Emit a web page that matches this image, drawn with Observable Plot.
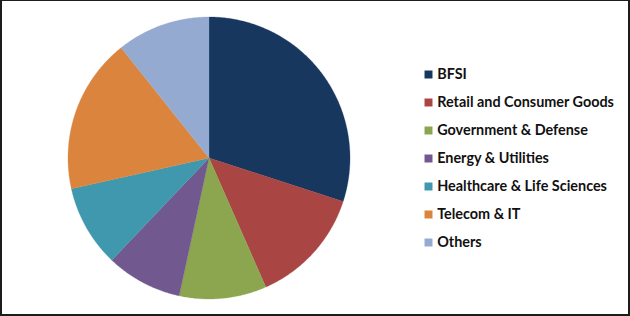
<!DOCTYPE html>
<html><head><meta charset="utf-8">
<script src="https://cdn.jsdelivr.net/npm/d3@7"></script>
<script src="https://cdn.jsdelivr.net/npm/@observablehq/plot@0.6"></script>
<style>
html,body{margin:0;padding:0;background:#fff;}
#frame{position:relative;width:630px;height:316px;overflow:hidden;background:#fff;}
#frame svg{position:absolute;left:0;top:0;background:transparent;}
#border{position:absolute;left:0;top:0;width:630px;height:316px;box-sizing:border-box;border-style:solid;border-color:#1c1c1c;border-width:1px 2px 2px 2px;pointer-events:none;}
</style></head><body>
<div id="frame"></div>
<script>
const categories = ["BFSI", "Retail and Consumer Goods", "Government & Defense", "Energy & Utilities", "Healthcare & Life Sciences", "Telecom & IT", "Others"];
const shares = [30, 13.4, 10, 8.7, 9.4, 17.8, 10.7];
const colors = ["#17375e", "#a94543", "#8ba64e", "#71588f", "#4098ae", "#db843d", "#94aad0"];

const arcs = d3.pie().sort(null).value(d => d)(shares);
const pts = [];
arcs.forEach((a, i) => {
  const cat = categories[i];
  pts.push({cat, x: 0, y: 0});
  const n = Math.max(2, Math.ceil((a.endAngle - a.startAngle) / 0.01));
  for (let k = 0; k <= n; k++) {
    const t = a.startAngle + (a.endAngle - a.startAngle) * k / n;
    pts.push({cat, x: Math.sin(t), y: Math.cos(t)});
  }
  pts.push({cat, x: 0, y: 0});
});

const pie = Plot.plot({
  width: 630, height: 316,
  marginLeft: 67.5, marginRight: 280.5, marginTop: 16.5, marginBottom: 17.5,
  x: {domain: [-1, 1], axis: null},
  y: {domain: [-1, 1], axis: null},
  color: {domain: categories, range: colors},
  style: {background: "transparent"},
  marks: [
    Plot.line(pts, {x: "x", y: "y", z: "cat", fill: "cat", stroke: "cat", strokeWidth: 0.3})
  ]
});

const legend = Plot.plot({
  width: 630, height: 316,
  marginLeft: 428, marginRight: 0, marginTop: 73.5, marginBottom: 74.3,
  y: {type: "point", domain: categories, axis: null, padding: 0},
  color: {domain: categories, range: colors},
  style: {background: "transparent", fontFamily: "Lato, sans-serif"},
  marks: [
    Plot.dot(categories, {y: d => d, fill: d => d, symbol: "square", r: 4.5, frameAnchor: "left"}),
    Plot.text(categories, {y: d => d, text: d => d, frameAnchor: "left", textAnchor: "start", dx: 8.7, fontSize: 14.4, fontWeight: "bold", fill: "#111"})
  ]
});

const frame = document.getElementById("frame");
frame.appendChild(pie);
frame.appendChild(legend);
const b = document.createElement("div");
b.id = "border";
frame.appendChild(b);
</script>
</body></html>
